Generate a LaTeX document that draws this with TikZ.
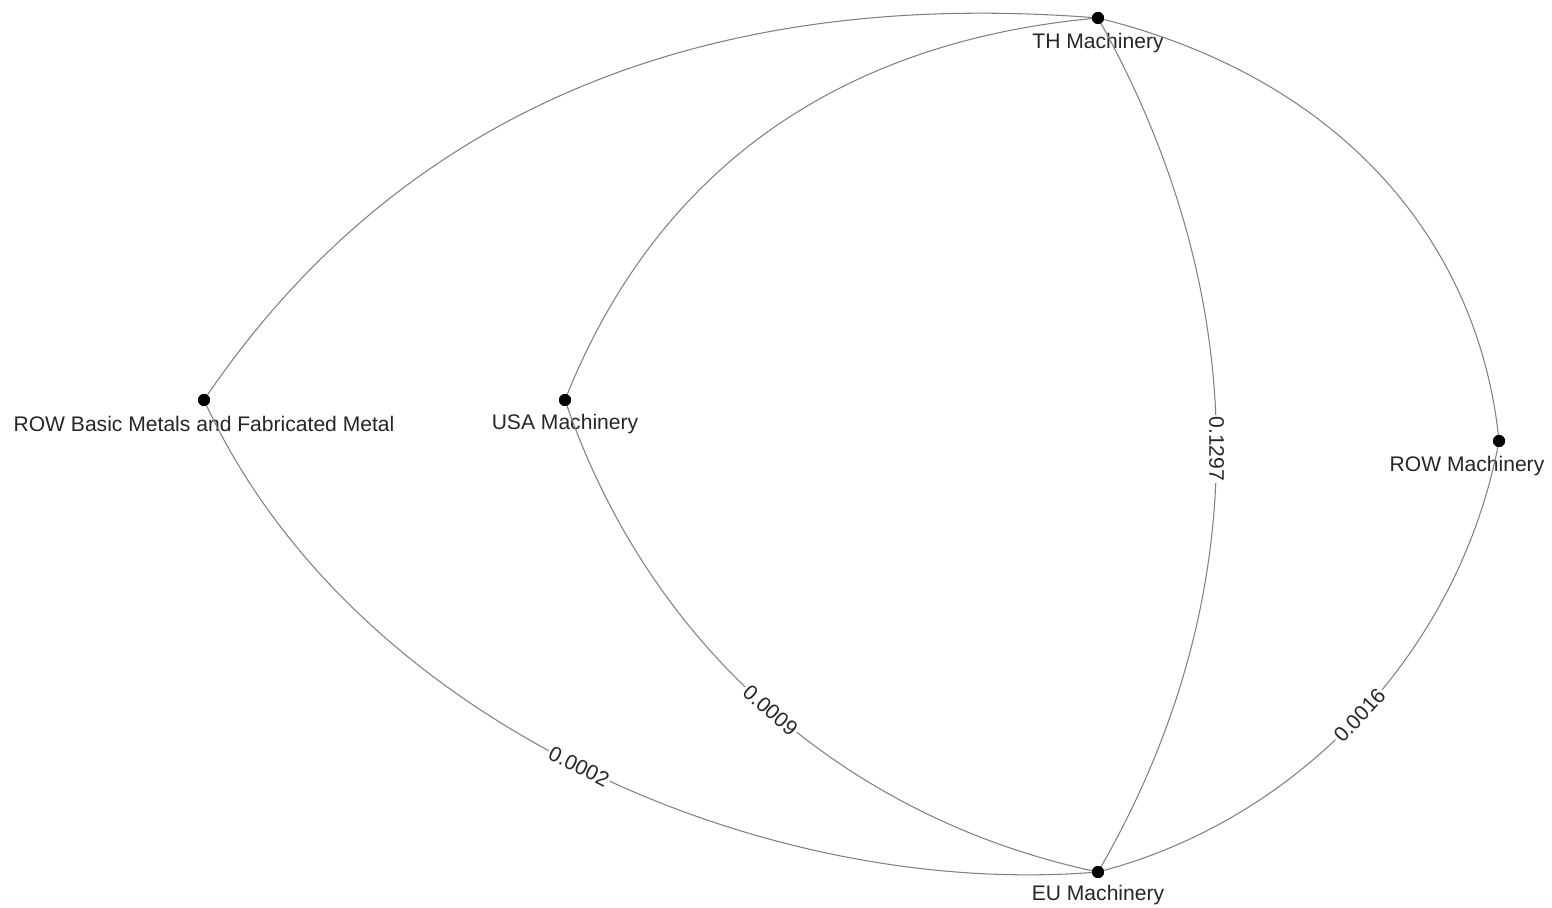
\documentclass[tikz,border=0pt]{standalone}
\usepackage{fontspec}
\setmainfont{Liberation Sans}
\usetikzlibrary{positioning}
\begin{document}
\begin{tikzpicture}[x=0.02cm,y=-0.02cm]
    \tikzstyle{every node}=[font=\fontsize{12}{14}\selectfont]
    \tikzstyle{dot}=[circle,fill=black,inner sep=0pt,minimum size=0.24cm]
    \tikzstyle{lbl}=[inner sep=1pt,text=black!85]
    \tikzstyle{edge}=[draw=gray,line width=0.6pt]
    \tikzstyle{wt}=[fill=white,inner sep=1pt,sloped,text=black!85]
    \useasboundingbox (0,0) rectangle (1552,908);

    % Dots
    \node[dot] (th) at (1098,18) {};
    \node[dot] (rb) at (204,400) {};
    \node[dot] (usa) at (565,400) {};
    \node[dot] (rowm) at (1499,441) {};
    \node[dot] (eu) at (1098,872) {};

    % Names
    \node[lbl] (thl) at (1098,43) {TH Machinery};
    \node[lbl] (rbl) at (204,424) {ROW Basic Metals and Fabricated Metal};
    \node[lbl] (usal) at (565,424) {USA Machinery};
    \node[lbl] (rowml) at (1467,466) {ROW Machinery};
    \node[lbl] (eul) at (1098,895) {EU Machinery};

    % Edges to TH
    \draw[edge] (rb.center) .. controls (420,80) and (750,-10) .. (th.center);
    \draw[edge] (usa.center) .. controls (660,160) and (850,40) .. (th.center);
    \draw[edge] (th.center) .. controls (1350,80) and (1480,250) .. (rowm.center);

    % Edges to EU
    \draw[edge] (th.center) .. controls (1256,300) and (1256,600) .. node[wt] {0.1297} (eu.center);
    \draw[edge] (rb.center) .. controls (350,720) and (760,900) .. node[wt] {0.0002} (eu.center);
    \draw[edge] (usa.center) .. controls (650,650) and (850,820) .. node[wt] {0.0009} (eu.center);
    \draw[edge] (rowm.center) .. controls (1460,650) and (1300,820) .. node[wt] {0.0016} (eu.center);

    % dots on top
    \foreach \n in {th,rb,usa,rowm,eu} \fill (\n) circle (0.12cm);
\end{tikzpicture}
\end{document}
